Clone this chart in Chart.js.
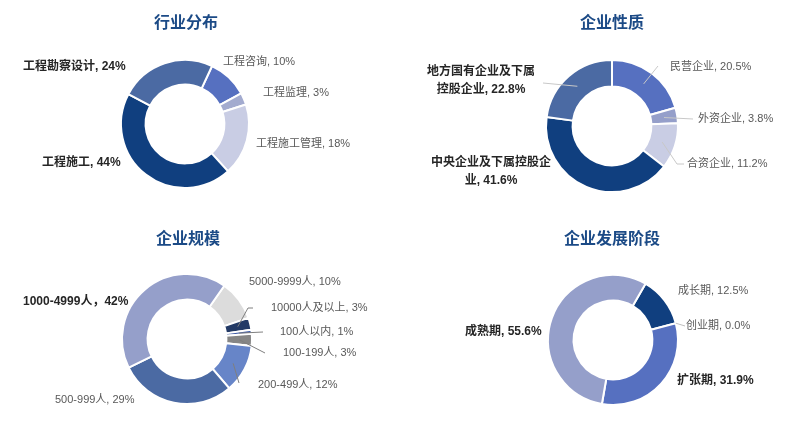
<!DOCTYPE html>
<html>
<head>
<meta charset="utf-8">
<script src="https://cdn.jsdelivr.net/npm/chart.js@4.4.0/dist/chart.umd.min.js"></script>
<style>
    body { margin: 0; background: #fff; }
    #wrap { position: relative; width: 795px; height: 439px; overflow: hidden; }
    #wrap canvas { position: absolute; left: 0; top: 0; }
</style>
</head>
<body>
<div id="wrap">
    <canvas id="industry" width="795" height="439"></canvas>
    <canvas id="nature" width="795" height="439"></canvas>
    <canvas id="scale" width="795" height="439"></canvas>
    <canvas id="stage" width="795" height="439"></canvas>
</div>
<script>
// 行业分布
const industryLabels = ['工程咨询', '工程监理', '工程施工管理', '工程施工', '工程勘察设计'];
const industryValues = [10, 3, 18, 44, 24];

// 企业性质
const natureLabels = ['民营企业', '外资企业', '合资企业', '中央企业及下属控股企业', '地方国有企业及下属控股企业'];
const natureValues = [20.5, 3.8, 11.2, 41.6, 22.8];

// 企业规模
const scaleLabels = ['5000-9999人', '10000人及以上', '100人以内', '100-199人', '200-499人', '500-999人', '1000-4999人'];
const scaleValues = [10, 3, 1, 3, 12, 29, 42];

// 企业发展阶段
const stageLabels = ['成长期', '创业期', '扩张期', '成熟期'];
const stageValues = [12.5, 0.0, 31.9, 55.6];

const TITLE_FONT = '"Noto Sans CJK SC", sans-serif';
const FONT = '"Liberation Sans", "Noto Sans CJK SC", sans-serif';
const TITLE_COLOR = '#1b4a86';
const BOLD_COLOR = '#262626';
const LIGHT_COLOR = '#595959';

// label layout for each slice: left x (or center), middle y, bold, leader points
const charts = [
    {
        id: 'industry', title: '行业分布', titleX: 186, titleY: 22,
        cx: 185, cy: 124, r: 64, cut: 40, rotation: 25,
        labels: industryLabels, values: industryValues, decimals: 0,
        colors: ['#5670c0', '#a3abcf', '#c9cde4', '#103f7f', '#4b6aa3'],
        text: [
            { x: 223, y: 62 },
            { x: 263, y: 93 },
            { x: 256, y: 144 },
            { x: 42, y: 163, bold: true },
            { x: 23, y: 67, bold: true },
        ],
    },
    {
        id: 'nature', title: '企业性质', titleX: 612, titleY: 22,
        cx: 612, cy: 126, r: 66, cut: 40, rotation: 0,
        labels: natureLabels, values: natureValues, decimals: 1,
        colors: ['#5670c0', '#959fca', '#c9cde4', '#103f7f', '#4b6aa3'],
        lineColor: '#c8c8c8',
        text: [
            { x: 670, y: 67, leader: [[658, 66]] },
            { x: 698, y: 119, leader: [[693, 119]] },
            { x: 687, y: 164, leader: [[677, 164], [684, 164]] },
            { center: 491, y: 163, bold: true, lines: ['中央企业及下属控股企', '业, 41.6%'] },
            { center: 481, y: 72, bold: true, lines: ['地方国有企业及下属', '控股企业, 22.8%'], leader: [[543, 83]] },
        ],
    },
    {
        id: 'scale', title: '企业规模', titleX: 188, titleY: 238,
        cx: 187, cy: 339, r: 65, cut: 40, rotation: 35,
        labels: scaleLabels, values: scaleValues, decimals: 0,
        colors: ['#dcdcdc', '#233a66', '#3f5ca8', '#868686', '#6785c8', '#4b6aa3', '#959fca'],
        lineColor: '#7f7f7f',
        text: [
            { x: 249, y: 282 },
            { x: 271, y: 308, leader: [[248, 308], [253, 308]] },
            { x: 280, y: 332, leader: [[263, 332]] },
            { x: 283, y: 353, leader: [[265, 353]] },
            { x: 258, y: 385, leader: [[239, 383]] },
            { x: 55, y: 400 },
            { x: 23, y: 302, bold: true, sep: '，' },
        ],
    },
    {
        id: 'stage', title: '企业发展阶段', titleX: 612, titleY: 238,
        cx: 613, cy: 340, r: 65, cut: 40, rotation: 30,
        labels: stageLabels, values: stageValues, decimals: 1,
        colors: ['#103f7f', '#5670c0', '#5670c0', '#959fca'],
        lineColor: '#bfbfbf',
        text: [
            { x: 678, y: 291 },
            { x: 686, y: 326, leader: [[685, 326]], edge: true },
            { x: 677, y: 381, bold: true },
            { x: 465, y: 332, bold: true },
        ],
    },
];

const labelPlugin = {
    id: 'sliceLabels',
    afterDraw(chart, args, opts) {
        const cfg = opts.cfg;
        const ctx = chart.ctx;
        const meta = chart.getDatasetMeta(0);
        ctx.save();

        ctx.font = 'bold 16px ' + TITLE_FONT;
        ctx.fillStyle = TITLE_COLOR;
        ctx.textAlign = 'center';
        ctx.textBaseline = 'middle';
        ctx.fillText(cfg.title, cfg.titleX, cfg.titleY);

        cfg.text.forEach((t, i) => {
            const arc = meta.data[i];
            if (t.leader) {
                const p = arc.getProps(['x', 'y', 'startAngle', 'endAngle', 'innerRadius', 'outerRadius']);
                const mid = (p.startAngle + p.endAngle) / 2;
                const rad = t.edge ? p.outerRadius : (p.innerRadius + p.outerRadius) / 2;
                ctx.strokeStyle = cfg.lineColor;
                ctx.lineWidth = 1;
                ctx.beginPath();
                ctx.moveTo(p.x + Math.cos(mid) * rad, p.y + Math.sin(mid) * rad);
                t.leader.forEach((pt) => ctx.lineTo(pt[0], pt[1]));
                ctx.stroke();
            }
            const value = cfg.values[i].toFixed(cfg.decimals) + '%';
            const lines = t.lines || [cfg.labels[i] + (t.sep || ', ') + value];
            ctx.font = t.bold ? 'bold 12px ' + FONT : '11px ' + FONT;
            ctx.fillStyle = t.bold ? BOLD_COLOR : LIGHT_COLOR;
            ctx.textBaseline = 'middle';
            lines.forEach((line, k) => {
                if (t.center !== undefined) {
                    ctx.textAlign = 'center';
                    ctx.fillText(line, t.center, t.y + k * 18);
                } else {
                    ctx.textAlign = 'left';
                    ctx.fillText(line, t.x, t.y + k * 18);
                }
            });
        });
        ctx.restore();
    },
};

charts.forEach((cfg) => {
    const el = document.getElementById(cfg.id);
    const side = cfg.r + 2;
    new Chart(el, {
        type: 'doughnut',
        data: {
            labels: cfg.labels,
            datasets: [
                {
                    data: cfg.values,
                    backgroundColor: cfg.colors,
                    borderColor: '#ffffff',
                    borderWidth: 2,
                },
            ],
        },
        options: {
            responsive: false,
            animation: false,
            events: [],
            rotation: cfg.rotation,
            radius: cfg.r,
            cutout: cfg.cut,
            layout: {
                padding: {
                    left: cfg.cx - side,
                    right: 795 - cfg.cx - side,
                    top: cfg.cy - side,
                    bottom: 439 - cfg.cy - side,
                },
            },
            plugins: {
                legend: { display: false },
                tooltip: { enabled: false },
                sliceLabels: { cfg: cfg },
            },
        },
        plugins: [labelPlugin],
    });
});
</script>
</body>
</html>
